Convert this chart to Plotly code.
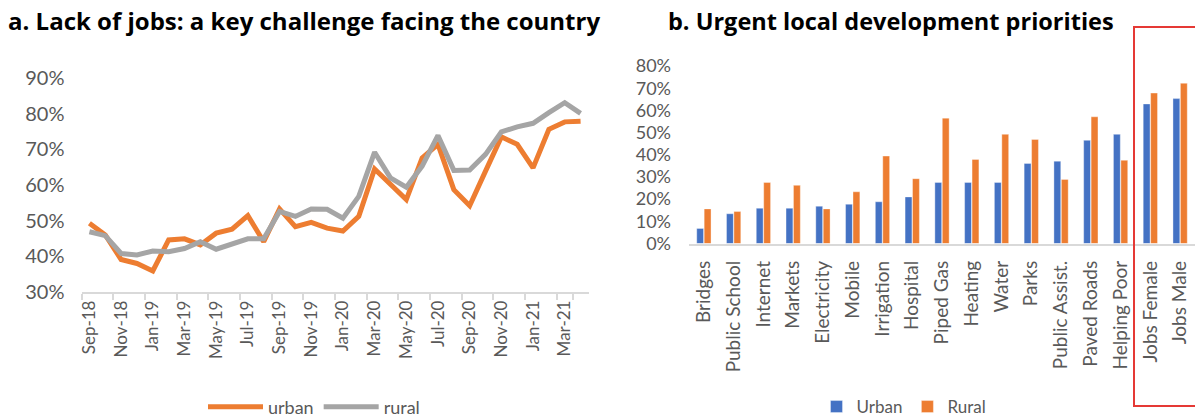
import plotly.graph_objects as go

# ---- Data: panel a (share saying lack of jobs is a key challenge, %) ----
months = ["Sep-18", "Oct-18", "Nov-18", "Dec-18", "Jan-19", "Feb-19", "Mar-19", "Apr-19",
          "May-19", "Jun-19", "Jul-19", "Aug-19", "Sep-19", "Oct-19", "Nov-19", "Dec-19",
          "Jan-20", "Feb-20", "Mar-20", "Apr-20", "May-20", "Jun-20", "Jul-20", "Aug-20",
          "Sep-20", "Oct-20", "Nov-20", "Dec-20", "Jan-21", "Feb-21", "Mar-21", "Apr-21"]
urban_line = [49.3, 46.0, 39.1, 38.0, 35.9, 44.6, 44.9, 43.2, 46.5, 47.6, 51.4, 44.1,
              53.3, 48.3, 49.5, 47.9, 47.1, 51.2, 64.5, 60.4, 55.9, 67.6, 71.4, 58.7,
              54.2, 63.9, 73.5, 71.4, 64.8, 75.6, 77.7, 77.9]
rural_line = [46.9, 45.8, 40.8, 40.4, 41.5, 41.3, 42.2, 44.1, 42.0, 43.4, 44.9, 44.9,
              52.6, 51.2, 53.3, 53.2, 50.7, 56.8, 69.2, 62.0, 59.4, 65.3, 73.9, 64.1,
              64.2, 68.6, 74.9, 76.3, 77.3, 80.3, 83.1, 80.1]

# ---- Data: panel b (urgent local development priorities, %) ----
priorities = ["Bridges", "Public School", "Internet", "Markets", "Electricity", "Mobile",
              "Irrigation", "Hospital", "Piped Gas", "Heating", "Water", "Parks",
              "Public Assist.", "Paved Roads", "Helping Poor", "Jobs Female", "Jobs Male"]
urban_bar = [6.8, 13.4, 15.9, 15.9, 16.8, 17.7, 18.8, 21.0, 27.5, 27.5, 27.5, 36.1,
             37.1, 46.5, 49.2, 62.9, 65.3]
rural_bar = [15.6, 14.4, 27.5, 26.2, 15.6, 23.3, 39.4, 29.2, 56.5, 37.9, 49.2, 46.9,
             28.9, 57.1, 37.5, 67.8, 72.2]

W, H = 1195, 418
ORANGE = "#ED7D31"
GREY = "#A5A5A5"
BLUE = "#4472C4"
TXT = "#595959"
AX = "#D9D9D9"
TICKFONT = "Lato"
TITLEFONT = "Open Sans"


def px_x(x):
    return min(max(x / W, 0.0), 1.0)


def px_y(y):
    return min(max(1 - y / H, 0.0), 1.0)


fig = go.Figure()
fig.add_trace(go.Scatter(x=months, y=urban_line, name="urban", mode="lines",
                         line=dict(color=ORANGE, width=5), xaxis="x", yaxis="y",
                         legend="legend"))
fig.add_trace(go.Scatter(x=months, y=rural_line, name="rural", mode="lines",
                         line=dict(color=GREY, width=5), xaxis="x", yaxis="y",
                         legend="legend"))
fig.add_trace(go.Bar(x=priorities, y=urban_bar, name="Urban", marker=dict(color=BLUE,
                     line=dict(color="rgba(255,255,255,0.6)", width=0.6)),
                     xaxis="x2", yaxis="y2", legend="legend2"))
fig.add_trace(go.Bar(x=priorities, y=rural_bar, name="Rural", marker=dict(color=ORANGE,
                     line=dict(color="rgba(255,255,255,0.6)", width=0.6)),
                     xaxis="x2", yaxis="y2", legend="legend2"))

fig.update_layout(
    width=W, height=H,
    margin=dict(l=0, r=0, t=0, b=0, pad=0, autoexpand=False),
    paper_bgcolor="white", plot_bgcolor="white",
    font=dict(family=TICKFONT, color=TXT),
    barmode="group", bargap=0.5, bargroupgap=0.08,
    xaxis=dict(domain=[px_x(81.5), px_x(588.5)], type="category",
               range=[-0.5, len(months) - 0.5],
               tickmode="array", tickvals=months[::2], tickson="boundaries",
               ticks="outside", ticklen=6, tickwidth=1.5, tickcolor=AX,
               showline=True, linecolor=AX, linewidth=1.5, showgrid=False,
               tickangle=-90, tickfont=dict(size=17, color=TXT, family=TICKFONT),
               anchor="y", fixedrange=True, automargin=False),
    yaxis=dict(domain=[px_y(292), px_y(78)], range=[30, 90], dtick=10,
               ticksuffix="%", showgrid=False, zeroline=False, showline=False,
               tickfont=dict(size=20, color=TXT, family=TICKFONT),
               ticklabelstandoff=16, anchor="x", automargin=False),
    xaxis2=dict(domain=[px_x(689), px_x(1195)], type="category",
                range=[-0.5, len(priorities) - 0.5],
                showline=True, linecolor=AX, linewidth=1.5, showgrid=False,
                ticks="", tickangle=-90,
                tickfont=dict(size=19, color=TXT, family=TICKFONT),
                ticklabelstandoff=8, anchor="y2", automargin=False),
    yaxis2=dict(domain=[px_y(243.5), px_y(66)], range=[0, 80], dtick=10,
                ticksuffix="%", showgrid=False, zeroline=False, showline=False,
                tickfont=dict(size=18, color=TXT, family=TICKFONT),
                ticklabelstandoff=17, anchor="x2", automargin=False),
    legend=dict(orientation="h", x=px_x(314), xanchor="center", y=px_y(407),
                yanchor="middle", font=dict(size=18, color=TXT, family=TICKFONT),
                itemwidth=55, bgcolor="rgba(0,0,0,0)", tracegroupgap=0),
    legend2=dict(orientation="h", x=px_x(904), xanchor="center", y=px_y(407),
                 yanchor="middle", font=dict(size=17, color=TXT, family=TICKFONT),
                 itemwidth=30, bgcolor="rgba(0,0,0,0)"),
    showlegend=True,
)

fig.add_annotation(text="<b>a. Lack of jobs: a key challenge facing the country</b>",
                   xref="paper", yref="paper", x=px_x(6), y=px_y(21),
                   xanchor="left", yanchor="middle", showarrow=False,
                   font=dict(family=TITLEFONT, size=24, color="black"))
fig.add_annotation(text="<b>b. Urgent local development priorities</b>",
                   xref="paper", yref="paper", x=px_x(666), y=px_y(21),
                   xanchor="left", yanchor="middle", showarrow=False,
                   font=dict(family=TITLEFONT, size=23.5, color="black"))

# red highlight box around the jobs categories (right edge runs off the image)
fig.add_shape(type="rect", xref="paper", yref="paper",
              x0=1134 / W, x1=1215 / W, y0=1 - 406 / H, y1=1 - 27 / H,
              line=dict(color="#E53935", width=2), fillcolor="rgba(0,0,0,0)")

fig.write_html("out.html", config={"displayModeBar": False},
               post_script="document.body.style.margin='0';document.body.style.overflow='hidden';")
